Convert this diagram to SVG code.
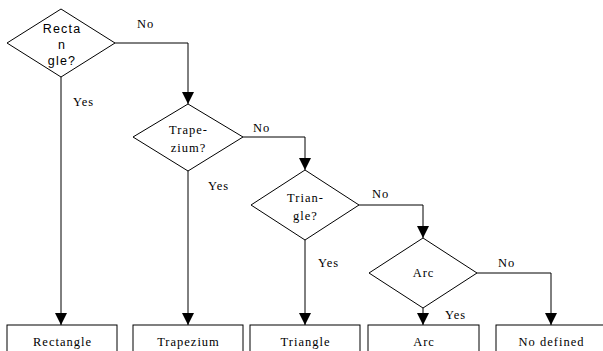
<svg xmlns="http://www.w3.org/2000/svg" width="603" height="351" viewBox="0 0 603 351">
<style>
.shape{fill:#fff;stroke:#000;stroke-width:1}
.line{fill:none;stroke:#000;stroke-width:1}
text{font-family:'Liberation Serif','Times New Roman','DejaVu Serif',serif;font-size:12.5px;letter-spacing:1px;fill:#000}
.t{text-anchor:middle}
.s{font-family:'Liberation Sans',Arial,sans-serif;font-size:12.5px;letter-spacing:1.2px;text-anchor:middle}
</style>
<g id="connectors">
<path class="line" d="M115,43 H188 V104"/>
<path class="line" d="M61,77 V325"/>
<path class="line" d="M188,171 V325"/>
<path class="line" d="M243,137 H305 V170"/>
<path class="line" d="M305,240 V325"/>
<path class="line" d="M359,205 H423 V238"/>
<path class="line" d="M423,308 V325"/>
<path class="line" d="M477,273 H551 V325"/>
<g fill="#000">
<path d="M182,92 L194,92 L188,104 Z"/>
<path d="M55,313 L67,313 L61,325 Z"/>
<path d="M182,313 L194,313 L188,325 Z"/>
<path d="M299,158 L311,158 L305,170 Z"/>
<path d="M299,313 L311,313 L305,325 Z"/>
<path d="M417,226 L429,226 L423,238 Z"/>
<path d="M417,313 L429,313 L423,325 Z"/>
<path d="M545,313 L557,313 L551,325 Z"/>
</g>
<text x="137" y="28">No</text>
<text x="73" y="106">Yes</text>
<text x="253" y="132">No</text>
<text x="208" y="190">Yes</text>
<text x="372" y="198">No</text>
<text x="318" y="267">Yes</text>
<text x="498" y="267">No</text>
<text x="445" y="319">Yes</text>
</g>
<g id="d_rect">
<path class="shape" d="M61,9 L115,43 L61,77 L7,43 Z"/>
<text class="s" x="62" y="33">Recta</text>
<text class="s" x="62" y="49">n</text>
<text class="s" x="62" y="65">gle?</text>
</g>
<g id="d_trap">
<path class="shape" d="M188,104 L243,137 L188,171 L133,137 Z"/>
<text class="t" x="188.5" y="134">Trape-</text>
<text class="t" x="188.5" y="152">zium?</text>
</g>
<g id="d_tri">
<path class="shape" d="M305,170 L359,205 L305,240 L251,205 Z"/>
<text class="t" x="305.5" y="202">Trian-</text>
<text class="t" x="305.5" y="220">gle?</text>
</g>
<g id="d_arc">
<path class="shape" d="M423,238 L477,273 L423,308 L369,273 Z"/>
<text class="t" x="423.5" y="277">Arc</text>
</g>
<g id="b_rect">
<rect class="shape" x="7" y="325" width="110" height="40"/>
<text class="t" x="62.5" y="346">Rectangle</text>
</g>
<g id="b_trap">
<rect class="shape" x="133" y="325" width="110" height="40"/>
<text class="t" x="188.5" y="346">Trapezium</text>
</g>
<g id="b_tri">
<rect class="shape" x="250" y="325" width="110" height="40"/>
<text class="t" x="305.5" y="346">Triangle</text>
</g>
<g id="b_arc">
<rect class="shape" x="368" y="325" width="111" height="40"/>
<text class="t" x="424" y="346">Arc</text>
</g>
<g id="b_none">
<rect class="shape" x="496" y="325" width="110" height="40"/>
<text class="t" x="551.5" y="346">No defined</text>
</g>
</svg>
